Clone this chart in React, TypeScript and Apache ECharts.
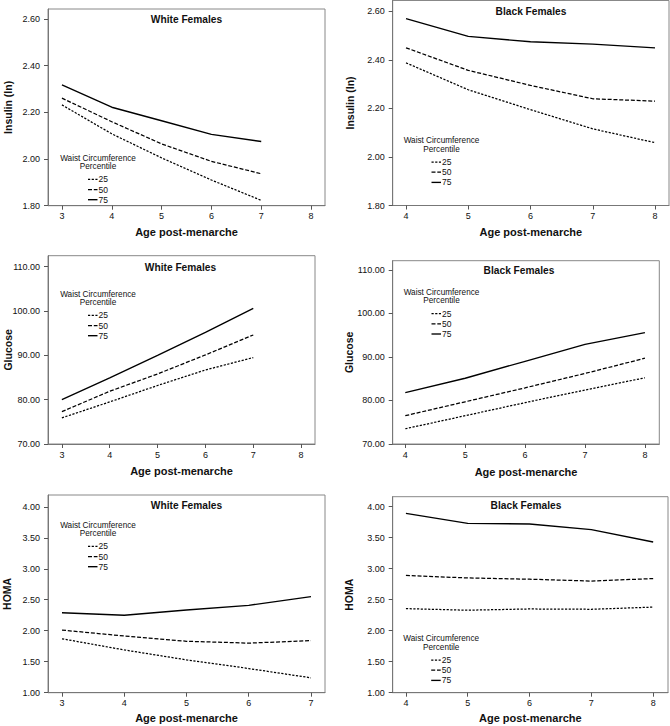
import React, { useEffect, useRef } from 'react';
import * as echarts from 'echarts';

// ---------- data ----------
const agesWhite = [3, 4, 5, 6, 7];
const agesBlack = [4, 5, 6, 7, 8];
const percentiles = ['25', '50', '75'];

const insulinWhite25 = [2.232, 2.108, 2.005, 1.91, 1.823];
const insulinWhite50 = [2.261, 2.16, 2.065, 1.99, 1.937];
const insulinWhite75 = [2.318, 2.222, 2.164, 2.106, 2.075];

const insulinBlack25 = [2.388, 2.277, 2.195, 2.116, 2.059];
const insulinBlack50 = [2.45, 2.357, 2.295, 2.24, 2.23];
const insulinBlack75 = [2.57, 2.497, 2.475, 2.465, 2.45];

const glucoseWhite25 = [75.9, 79.5, 83.2, 86.7, 89.5];
const glucoseWhite50 = [77.3, 81.9, 85.8, 90.1, 94.6];
const glucoseWhite75 = [80.0, 84.9, 90.0, 95.2, 100.6];

const glucoseBlack25 = [73.5, 76.5, 79.5, 82.4, 85.2];
const glucoseBlack50 = [76.5, 79.7, 82.9, 86.2, 89.7];
const glucoseBlack75 = [81.8, 85.1, 89.0, 92.9, 95.6];

const homaWhite25 = [1.87, 1.69, 1.53, 1.39, 1.24];
const homaWhite50 = [2.01, 1.915, 1.83, 1.8, 1.84];
const homaWhite75 = [2.29, 2.25, 2.335, 2.41, 2.55];

const homaBlack25 = [2.355, 2.33, 2.35, 2.345, 2.38];
const homaBlack50 = [2.89, 2.85, 2.83, 2.8, 2.84];
const homaBlack75 = [3.89, 3.73, 3.72, 3.63, 3.43];

const xTicksWide = [3, 4, 5, 6, 7, 8];
const xTicksWhiteHoma = [3, 4, 5, 6, 7];
const xTicksBlack = [4, 5, 6, 7, 8];
const insulinTicks = [1.8, 2.0, 2.2, 2.4, 2.6];
const glucoseTicks = [70, 80, 90, 100, 110];
const homaTicks = [1, 1.5, 2, 2.5, 3, 3.5, 4];

const titles = ['White Females', 'Black Females', 'White Females', 'Black Females', 'White Females', 'Black Females'];
const yNames = ['Insulin (In)', 'Insulin (In)', 'Glucose', 'Glucose', 'HOMA', 'HOMA'];
const xName = 'Age post-menarche';
const legendTitle1 = 'Waist Circumference';
const legendTitle2 = 'Percentile';

const panelData = [
  { ages: agesWhite, values: [insulinWhite25, insulinWhite50, insulinWhite75], xTicks: xTicksWide, yTicks: insulinTicks },
  { ages: agesBlack, values: [insulinBlack25, insulinBlack50, insulinBlack75], xTicks: xTicksBlack, yTicks: insulinTicks },
  { ages: agesWhite, values: [glucoseWhite25, glucoseWhite50, glucoseWhite75], xTicks: xTicksWide, yTicks: glucoseTicks },
  { ages: agesBlack, values: [glucoseBlack25, glucoseBlack50, glucoseBlack75], xTicks: xTicksBlack, yTicks: glucoseTicks },
  { ages: agesWhite, values: [homaWhite25, homaWhite50, homaWhite75], xTicks: xTicksWhiteHoma, yTicks: homaTicks },
  { ages: agesBlack, values: [homaBlack25, homaBlack50, homaBlack75], xTicks: xTicksBlack, yTicks: homaTicks },
];

// ---------- layout / style ----------
const FONT = '"Liberation Sans", Arial, Helvetica, sans-serif';
const INK = '#000';
const TEXT = '#111';
const layouts = [
  { left: 48, top: 9, width: 277, height: 196.7, xMin: 2.72, xMax: 8.28, yMin: 1.8, yMax: 2.643, titleX: 186.5, titleY: 20, yGap: 35, xGap: 20.5, legX: 98, legY: 158 },
  { left: 392.7, top: 0.5, width: 276.3, height: 205, xMin: 3.786, xMax: 8.225, yMin: 1.8, yMax: 2.645, titleX: 531, titleY: 12, yGap: 37, xGap: 20.5, legX: 441.5, legY: 140.7 },
  { left: 48, top: 255.7, width: 267, height: 188.3, xMin: 2.71, xMax: 8.29, yMin: 70, yMax: 112.48, titleX: 180.5, titleY: 268.5, yGap: 35, xGap: 21.5, legX: 98, legY: 294 },
  { left: 392.7, top: 260.7, width: 266.6, height: 183.3, xMin: 3.79, xMax: 8.24, yMin: 70, yMax: 112.1, titleX: 519, titleY: 271, yGap: 38, xGap: 22.5, legX: 441.5, legY: 292.3 },
  { left: 48, top: 495, width: 277, height: 197.7, xMin: 2.775, xMax: 7.225, yMin: 1, yMax: 4.19, titleX: 186.5, titleY: 506.7, yGap: 36, xGap: 20, legX: 98, legY: 525 },
  { left: 392.7, top: 496.7, width: 275.3, height: 196, xMin: 3.786, xMax: 8.24, yMin: 1, yMax: 4.16, titleX: 526, titleY: 506.7, yGap: 38, xGap: 20, legX: 441.2, legY: 638.7 },
];
const dashes: any[] = [[2.2, 1.5], [4, 1.8], 'solid'];
const widths = [1.25, 1.25, 1.35];
const legendOffsets = [21.3, 31.5, 41.7];

function buildOption() {
  const grid = layouts.map((L) => ({
    left: L.left, top: L.top, width: L.width, height: L.height,
    show: true, borderColor: '#888', borderWidth: 1, backgroundColor: 'transparent',
    containLabel: false, outerBoundsMode: 'none',
  }));
  const xAxis = layouts.map((L, i) => ({
    type: 'value', gridIndex: i, min: L.xMin, max: L.xMax,
    name: xName, nameLocation: 'middle', nameGap: L.xGap, nameMoveOverlap: false,
    nameTextStyle: { fontFamily: FONT, fontSize: 11, fontWeight: 'bold', color: TEXT },
    axisLine: { show: true, onZero: false, lineStyle: { color: '#777', width: 1 } },
    axisTick: { show: true, length: 4, lineStyle: { color: '#555' }, customValues: panelData[i].xTicks },
    axisLabel: { fontFamily: FONT, fontSize: 9, color: TEXT, margin: 6, customValues: panelData[i].xTicks, formatter: (v: number) => String(v) },
    splitLine: { show: false },
  }));
  const yAxis = layouts.map((L, i) => ({
    type: 'value', gridIndex: i, min: L.yMin, max: L.yMax,
    name: yNames[i], nameLocation: 'middle', nameGap: L.yGap, nameMoveOverlap: false,
    nameTextStyle: { fontFamily: FONT, fontSize: 10.5, fontWeight: 'bold', color: TEXT },
    axisLine: { show: true, onZero: false, lineStyle: { color: '#777', width: 1 } },
    axisTick: { show: true, length: 4, lineStyle: { color: '#555' }, customValues: panelData[i].yTicks },
    axisLabel: { fontFamily: FONT, fontSize: 9, color: TEXT, margin: 8, customValues: panelData[i].yTicks, formatter: (v: number) => v.toFixed(2) },
    splitLine: { show: false },
  }));
  const series: any[] = [];
  panelData.forEach((P, i) => {
    P.values.forEach((vals, j) => {
      series.push({
        type: 'line', name: percentiles[j], xAxisIndex: i, yAxisIndex: i,
        data: P.ages.map((a, k) => [a, vals[k]]),
        symbol: 'none', silent: true,
        lineStyle: { color: INK, width: widths[j], type: dashes[j] },
      });
    });
  });
  const title = layouts.map((L, i) => ({
    text: titles[i], left: L.titleX, top: L.titleY - 6, textAlign: 'center', padding: 0,
    textStyle: { fontFamily: FONT, fontSize: 10.2, fontWeight: 'bold', color: TEXT },
  }));
  const textStyle = (text: string, size: number, align: string) => ({
    text, fill: TEXT, fontSize: size, fontFamily: FONT,
    align, verticalAlign: 'middle', textAlign: align, textVerticalAlign: 'middle',
  });
  const graphic: any[] = [];
  layouts.forEach((L) => {
    graphic.push({ type: 'text', silent: true, x: L.legX, y: L.legY, style: textStyle(legendTitle1, 8.2, 'center') });
    graphic.push({ type: 'text', silent: true, x: L.legX, y: L.legY + 8.3, style: textStyle(legendTitle2, 8.2, 'center') });
    percentiles.forEach((p, j) => {
      const y = L.legY + legendOffsets[j];
      graphic.push({
        type: 'line', silent: true,
        shape: { x1: L.legX - 10, y1: y, x2: L.legX - 0.5, y2: y },
        style: { stroke: INK, lineWidth: widths[j], lineDash: j === 2 ? null : dashes[j] },
      });
      graphic.push({ type: 'text', silent: true, x: L.legX + 0.5, y, style: textStyle(p, 8.5, 'left') });
    });
  });
  return { animation: false, backgroundColor: '#fff', grid, xAxis, yAxis, series, title, graphic };
}

export default function App() {
  const ref = useRef<HTMLDivElement>(null);
  useEffect(() => {
    document.body.style.margin = '0';
    if (!ref.current) return;
    const chart = echarts.init(ref.current, undefined, { renderer: 'svg' });
    chart.setOption(buildOption() as any);
    return () => chart.dispose();
  }, []);
  return <div ref={ref} style={{ position: 'absolute', left: 0, top: 0, width: 670, height: 726 }} />;
}
